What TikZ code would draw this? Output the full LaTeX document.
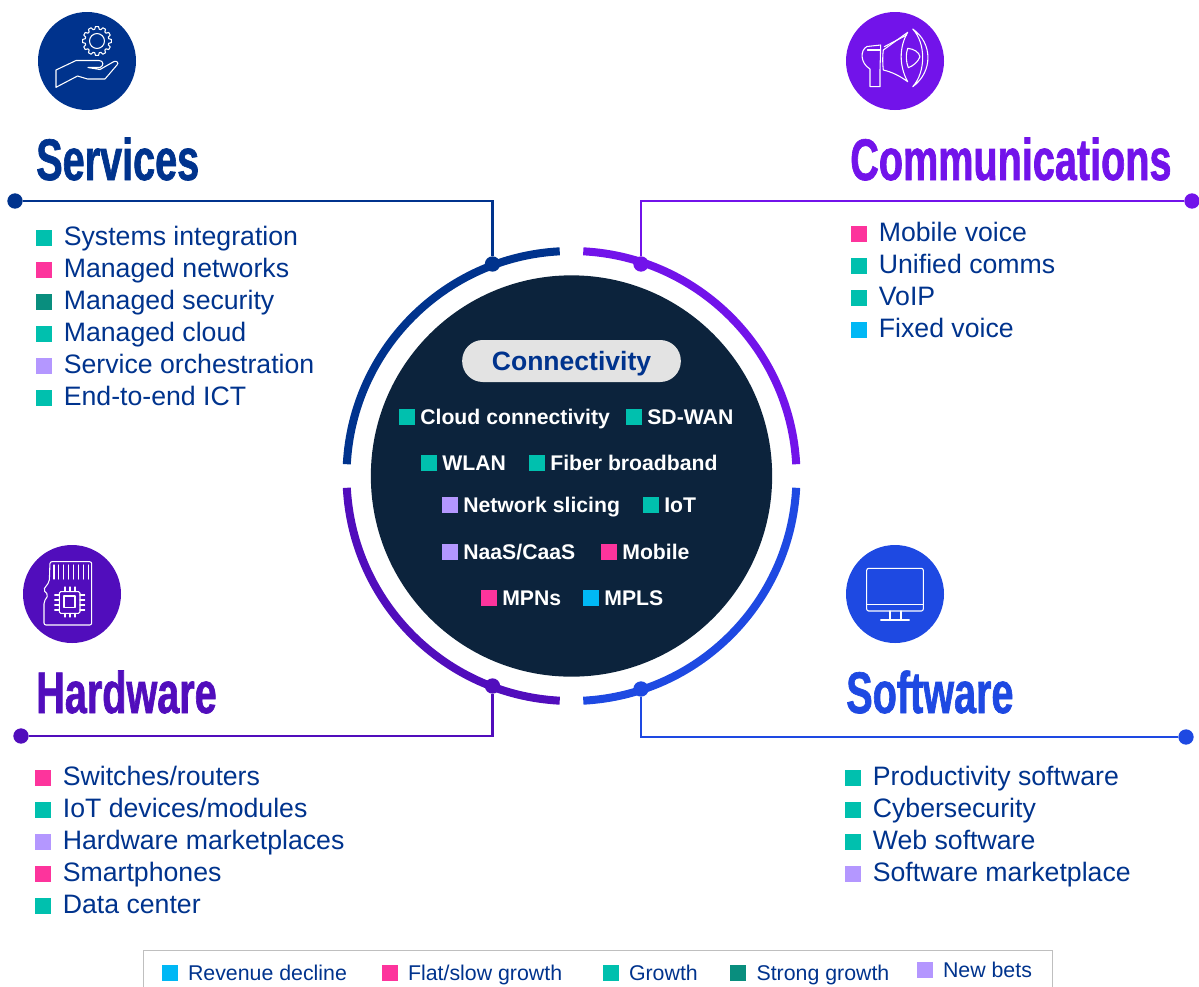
\documentclass[tikz,border=0pt]{standalone}
\usepackage{fontspec}
\setsansfont{Liberation Sans}
\newfontfamily\titlefont[FakeStretch=0.675,BoldFeatures={FakeBold=1.1}]{Liberation Sans}
\usetikzlibrary{
  positioning,  % Function "of" (e.g. [right=of x])
  calc,         % Calculations $...$
}
\definecolor{navy}{HTML}{0C233C}
\definecolor{srvblue}{HTML}{00338D}
\definecolor{compurple}{HTML}{7213EA}
\definecolor{hwviolet}{HTML}{510DBC}
\definecolor{swblue}{HTML}{1E49E2}
\definecolor{decline}{HTML}{00B8F5}
\definecolor{flat}{HTML}{FD349C}
\definecolor{growth}{HTML}{00C0AE}
\definecolor{strong}{HTML}{098E7E}
\definecolor{newbets}{HTML}{B497FF}
\def\myring{168.75pt}
\newcommand{\entry}[5][my list]{
  \node[my mark,fill=#3] (#2) at (#4) {};
  \node[#1,right=of #2] (#2t) {#5};
}
\tikzset{
  font=\sffamily,
  my mark/.style={
    draw=none,
    minimum size=12pt,
    inner sep=0pt
  },
  my entry/.style={
    inner sep=0pt,
    text height=14pt,
    text depth=2.8pt
  },
  my list/.style={
    my entry,
    node distance=8.5pt,
    text=srvblue,
    font=\sffamily\fontsize{20}{22}\selectfont
  },
  my hub/.style={
    my entry,
    node distance=3.6pt,
    text=white,
    font=\sffamily\bfseries\fontsize{15.9}{18}\selectfont
  },
  my key/.style={
    my entry,
    node distance=7.5pt,
    text=srvblue,
    yshift=-0.5pt,
    font=\sffamily\fontsize{16}{18}\selectfont
  },
  my title/.style={
    inner sep=0pt,
    anchor=base west,
    font=\titlefont\bfseries\fontsize{44}{50}\selectfont
  },
  my badge/.style={
    circle,
    minimum size=73.5pt,
    inner sep=0pt
  },
  my dot/.style={
    circle,
    minimum size=11.5pt,
    inner sep=0pt
  },
  my arc/.style={
    line width=6pt
  },
  my link/.style={
    line width=1.9pt
  },
  my icon/.style={
    draw=white,
    line width=0.8pt,
    line join=round,
    line cap=round
  }
}
\begin{document}
\begin{tikzpicture}[x=0.75pt,y=-0.75pt]
\useasboundingbox (0,0) rectangle (1199,986);
\clip (0,0) rectangle (1199,986);

% hub and ring
\node[circle,fill=navy,minimum size=301pt,inner sep=0pt] (hub) at (571.5,476) {};
\draw[my arc,srvblue] ([shift=(93:\myring)]hub.center) arc[start angle=93,end angle=177,radius=\myring];
\draw[my arc,compurple] ([shift=(87:\myring)]hub.center) arc[start angle=87,end angle=3,radius=\myring];
\draw[my arc,hwviolet] ([shift=(183:\myring)]hub.center) arc[start angle=183,end angle=267,radius=\myring];
\draw[my arc,swblue] ([shift=(273:\myring)]hub.center) arc[start angle=273,end angle=357,radius=\myring];

% connectors
\node[my dot,fill=srvblue] (srvin) at (492.5,264) {};
\node[my dot,fill=srvblue] (srvout) at (15,201) {};
\node[my dot,fill=compurple] (comin) at (641,264) {};
\node[my dot,fill=compurple] (comout) at (1192,201) {};
\node[my dot,fill=hwviolet] (hwin) at (492.5,686) {};
\node[my dot,fill=hwviolet] (hwout) at (21,736) {};
\node[my dot,fill=swblue] (swin) at (641,689) {};
\node[my dot,fill=swblue] (swout) at (1186,737) {};
\draw[my link,srvblue] (srvout) -| (srvin);
\draw[my link,compurple] (comout) -| (comin);
\draw[my link,hwviolet] (hwout) -| (hwin);
\draw[my link,swblue] (swout) -| (swin);

% titles
\node[my title,text=srvblue] (srvtitle) at (36,180) {Services};
\node[my title,text=compurple] (comtitle) at (850,180) {Communications};
\node[my title,text=hwviolet] (hwtitle) at (36,713) {Hardware};
\node[my title,text=swblue] (swtitle) at (846,713) {Software};

% badges
\node[my badge,fill=srvblue] (srvbadge) at (87,61) {};
\node[my badge,fill=compurple] (combadge) at (895,61) {};
\node[my badge,fill=hwviolet] (hwbadge) at (72,594) {};
\node[my badge,fill=swblue] (swbadge) at (895,594) {};

% gear and hand
\begin{scope}[shift={(97,41)}]
\draw[my icon] (-11:12) \foreach \a in {0,30,...,330} {
    -- (\a-11:12) -- (\a-6:14.5) -- (\a+6:14.5) -- (\a+11:12)} -- cycle;
\draw[my icon] (0,0) circle[radius=5.6pt];
\end{scope}
\draw[my icon] (56,70) -- (76,60.5) -- (99,60.5)
    .. controls (104,60.5) and (104,66) .. (100,67.5) -- (88,67.5)
    -- (100,69.5) -- (114,61.5)
    .. controls (117,60.5) and (119,63) .. (117,65)
    -- (105,79) -- (87.5,79) -- (77.5,76) -- (56,87.3) -- cycle;

% megaphone
\draw[my icon] (880.7,45) -- (867,46.5)
    .. controls (860,50) and (860,63) .. (870,69)
    -- (870,86.7) -- (880,86.7) -- (880,70) -- cycle;
\draw[my icon] (867.5,50) -- (880.7,50);
\draw[my icon] (883.3,50) -- (907.7,32.3)
    .. controls (899,47) and (899,66) .. (907.7,81.7)
    .. controls (900,76) and (892,72) .. (883.3,70)
    .. controls (882.5,63) and (882.5,56) .. (883.3,50);
\draw[my icon] (884.3,46.7) -- (906.7,35);
\draw[my icon] (912.7,29) .. controls (933,43) and (933,72) .. (912.7,86.7)
    .. controls (926,72) and (926,43) .. (912.7,29);
\draw[my icon] (907.7,48.3) .. controls (914,49) and (919,52) .. (920,56.7)
    .. controls (918,62) and (913,66) .. (908.3,67.7)
    .. controls (906,62) and (905.5,54) .. (907.7,48.3);

% memory card
\draw[my icon,rounded corners=1.5pt] (50,561.7) -- (91.7,561.7) -- (91.7,625)
    -- (44,625) -- (44,601.7) -- (48.3,595) -- (43.3,590) -- (49.3,581.7) -- cycle;
\foreach \x in {54,58.7,63.3,68.3,73.3,78.3,83.3,88.3}
  \draw[my icon] (\x,565) -- (\x,579);
\draw[my icon,rounded corners=1pt] (59.3,591.7) rectangle (80,613.3);
\draw[my icon] (64,596) rectangle (75,607.3);
\foreach \x in {65,70,75} {
  \draw[my icon] (\x,587) -- (\x,591.7);
  \draw[my icon] (\x,613.3) -- (\x,617);
}
\foreach \y in {595,600,605,610} {
  \draw[my icon] (54.7,\y) -- (59.3,\y);
  \draw[my icon] (80,\y) -- (84.7,\y);
}

% monitor
\draw[my icon,rounded corners=1.5pt] (866.7,568.3) rectangle (923.3,611);
\draw[my icon] (866.7,604.3) -- (923.3,604.3);
\draw[my icon] (890,611) -- (890,620);
\draw[my icon] (901,611) -- (901,620);
\draw[my icon] (880.7,620) -- (909.3,620);

% services
\entry{srva}{growth}{44,238}{Systems integration}
\entry{srvb}{flat}{44,270}{Managed networks}
\entry{srvc}{strong}{44,302}{Managed security}
\entry{srvd}{growth}{44,334}{Managed cloud}
\entry{srve}{newbets}{44,366}{Service orchestration}
\entry{srvf}{growth}{44,398}{End-to-end ICT}

% communications
\entry{coma}{flat}{859,234}{Mobile voice}
\entry{comb}{growth}{859,266}{Unified comms}
\entry{comc}{growth}{859,298}{VoIP}
\entry{comd}{decline}{859,330}{Fixed voice}

% hardware
\entry{hwa}{flat}{43,778}{Switches/routers}
\entry{hwb}{growth}{43,810}{IoT devices/modules}
\entry{hwc}{newbets}{43,842}{Hardware marketplaces}
\entry{hwd}{flat}{43,874}{Smartphones}
\entry{hwe}{growth}{43,906}{Data center}

% software
\entry{swa}{growth}{853,778}{Productivity software}
\entry{swb}{growth}{853,810}{Cybersecurity}
\entry{swc}{growth}{853,842}{Web software}
\entry{swd}{newbets}{853,874}{Software marketplace}

% connectivity
\node[fill=black!11,rounded corners=15.5pt,minimum width=164pt,minimum height=31.5pt,
  inner sep=0pt,text=srvblue,text height=15pt,text depth=1.5pt,
  font=\sffamily\bfseries\fontsize{19.9}{22}\selectfont]
  (conn) at (571.5,361) {Connectivity};
\entry[my hub]{cona}{growth}{407,417}{Cloud connectivity}
\entry[my hub]{conb}{growth}{634,417}{SD-WAN}
\entry[my hub]{conc}{growth}{429,463}{WLAN}
\entry[my hub]{cond}{growth}{537,463}{Fiber broadband}
\entry[my hub]{cone}{newbets}{450,505}{Network slicing}
\entry[my hub]{conf}{growth}{651,505}{IoT}
\entry[my hub]{cong}{newbets}{450,552}{NaaS/CaaS}
\entry[my hub]{conh}{flat}{609,552}{Mobile}
\entry[my hub]{coni}{flat}{489,598}{MPNs}
\entry[my hub]{conj}{decline}{591,598}{MPLS}

% legend
\node[inner sep=0pt] (keytl) at (143.5,950.5) {};
\node[inner sep=0pt] (keytr) at (1052.5,950.5) {};
\node[inner sep=0pt] (keybl) at (143.5,990) {};
\node[inner sep=0pt] (keybr) at (1052.5,990) {};
\draw[black!25,line width=0.9pt] (keybl.center) -- (keytl.center) -- (keytr.center) -- (keybr.center);
\entry[my key]{keya}{decline}{169.5,972.5}{Revenue decline}
\entry[my key]{keyb}{flat}{389.5,972.5}{Flat/slow growth}
\entry[my key]{keyc}{growth}{610.5,972.5}{Growth}
\entry[my key]{keyd}{strong}{738,972.5}{Strong growth}
\entry[my key]{keye}{newbets}{924.5,969.5}{New bets}
\end{tikzpicture}
\end{document}
